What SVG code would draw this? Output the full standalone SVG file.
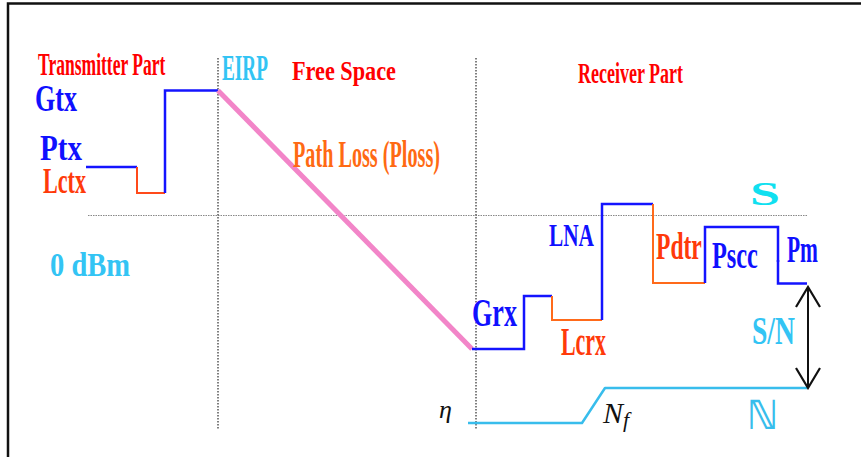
<svg xmlns="http://www.w3.org/2000/svg" width="861" height="457" viewBox="0 0 861 457">
<defs>
<style>
.t{font-family:"Liberation Serif","Times New Roman",serif;font-weight:bold;}
.blue{fill:#1010ff;}
.red{fill:#ff0000;}
.ored{fill:#ff3a0a;}
.orange{fill:#ff6a13;}
.lb{fill:#33c4f4;}
.lvl{fill:none;stroke-linejoin:miter;stroke-linecap:butt;}
.bl{stroke:#1414ff;stroke-width:2.5;}
.or{stroke:#ff6a1a;stroke-width:2;}
.dot{stroke:#555;stroke-width:1.5;stroke-dasharray:1.5 1.5;fill:none;}
.hdot{stroke:#888;stroke-width:1.2;stroke-dasharray:1.5 1;fill:none;}
.it{font-family:"Liberation Serif","Times New Roman",serif;font-style:italic;fill:#111;}
</style>
<marker id="ah" viewBox="0 0 24 26" refX="22" refY="13" markerWidth="24" markerHeight="26" markerUnits="userSpaceOnUse" orient="auto-start-reverse">
<path d="M2 1 L22 13 L2 25" fill="none" stroke="#111" stroke-width="2.2"/>
</marker>
</defs>
<rect x="0" y="0" width="861" height="457" fill="#ffffff"/>
<path d="M8 457 V3.5 H861" fill="none" stroke="#111" stroke-width="2.5"/>

<g id="grid">
<path class="hdot" d="M88 215.5 H808"/>
<path class="dot" d="M218 58 V430"/>
<path class="dot" d="M476 58 V430"/>
</g>

<g id="connectors">
<path class="lvl bl" d="M86 167 H137" stroke-width="3.5"/>
<path class="lvl or" d="M137 167 V193 H165" style="stroke:#ff4a1a"/>
<path class="lvl bl" d="M165 193 V90.5 H218"/>
<path d="M218 90.5 L472 349" stroke="#f285c8" stroke-width="5" fill="none"/>
<path class="lvl bl" d="M472 349 H524 V296 H552"/>
<path class="lvl or" d="M552 296 V320 H602"/>
<path class="lvl bl" d="M602 320 V204 H653"/>
<path class="lvl or" d="M653 204 V283 H705"/>
<path class="lvl bl" d="M705 283 V227 H778 V262"/>
<path class="lvl bl" d="M778 260 V283.5 H807" stroke-width="4"/>
<path d="M468 423 H582 L605 388 H807" fill="none" stroke="#38bdec" stroke-width="2.5" stroke-linejoin="round"/>
<path d="M808 287 V388" stroke="#111" stroke-width="2" fill="none" marker-start="url(#ah)" marker-end="url(#ah)"/>
</g>

<g id="transmitter">
<text class="t red" transform="translate(38 75) scale(0.566 1)" x="0" y="0" font-size="31">Transmitter Part</text>
<text class="t blue" x="35" y="111" font-size="37" textLength="42" lengthAdjust="spacingAndGlyphs">Gtx</text>
<text class="t blue" x="40" y="160" font-size="36" textLength="42" lengthAdjust="spacingAndGlyphs">Ptx</text>
<text class="t ored" x="43" y="193" font-size="35" textLength="43" lengthAdjust="spacingAndGlyphs">Lctx</text>
<text class="t lb" x="50" y="276" font-size="34" textLength="80" lengthAdjust="spacingAndGlyphs">0 dBm</text>
</g>

<g id="freespace">
<text class="t lb" transform="translate(222 80) scale(0.55 1)" x="0" y="0" font-size="35">EIRP</text>
<text class="t red" x="292" y="80" font-size="27" textLength="104" lengthAdjust="spacingAndGlyphs">Free Space</text>
<text class="t orange" x="293" y="167" font-size="38" textLength="147" lengthAdjust="spacingAndGlyphs">Path Loss (Ploss)</text>
</g>

<g id="receiver">
<text class="t red" x="578" y="83" font-size="29" textLength="105" lengthAdjust="spacingAndGlyphs">Receiver Part</text>
<text class="t blue" x="472" y="326" font-size="40" textLength="45" lengthAdjust="spacingAndGlyphs">Grx</text>
<text class="t blue" x="549" y="246" font-size="31" textLength="45" lengthAdjust="spacingAndGlyphs">LNA</text>
<text class="t ored" x="561" y="355" font-size="41" textLength="45" lengthAdjust="spacingAndGlyphs">Lcrx</text>
<text class="t ored" transform="translate(656 259) scale(0.62 1)" x="0" y="0" font-size="38">Pdtr</text>
<text class="t blue" transform="translate(712 268) scale(0.64 1)" x="0" y="0" font-size="38">Pscc</text>
<text class="t blue" x="787" y="262" font-size="37" textLength="31" lengthAdjust="spacingAndGlyphs">Pm</text>
<text class="t" x="750" y="205" font-size="34" fill="#10e0f0" textLength="30" lengthAdjust="spacingAndGlyphs">S</text>
<text class="t lb" x="752" y="344" font-size="40" textLength="43" lengthAdjust="spacingAndGlyphs">S/N</text>
</g>

<g id="noise">
<text class="it" x="439" y="418" font-size="26">η</text>
<text class="it" x="603" y="423" font-size="30">N<tspan font-size="22" dy="4">f</tspan></text>
<text x="747" y="429" font-size="40" font-weight="bold" fill="#38bdec" font-family="DejaVu Serif, DejaVu Sans, serif" textLength="31" lengthAdjust="spacingAndGlyphs">ℕ</text>
</g>
</svg>
